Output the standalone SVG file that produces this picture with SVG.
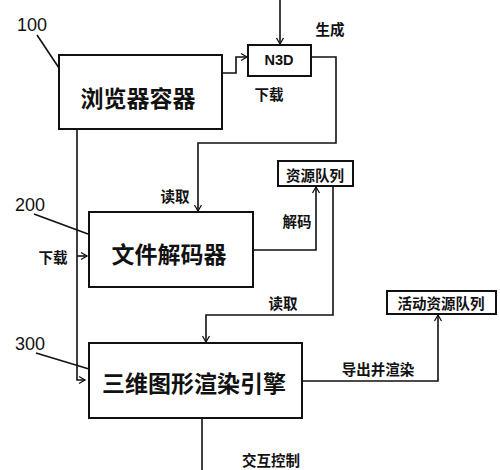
<svg xmlns="http://www.w3.org/2000/svg" width="500" height="470" viewBox="0 0 500 470">
<defs>
<marker id="ah" markerWidth="10" markerHeight="10" refX="8" refY="5" orient="auto" markerUnits="userSpaceOnUse">
<path d="M2,1.5 L8,5 L2,8.5" fill="none" stroke="#111" stroke-width="1.3"/>
</marker>
<style>
.box{fill:#fff;stroke:#111;stroke-width:2}
.con{fill:none;stroke:#111;stroke-width:1.6}
.big{font-family:"Noto Sans CJK SC","Noto Sans",sans-serif;font-size:23px;font-weight:bold;fill:#111;text-anchor:middle;dominant-baseline:central}
.sm{font-family:"Noto Sans CJK SC","Noto Sans",sans-serif;font-size:14.5px;font-weight:bold;fill:#111;text-anchor:middle;dominant-baseline:central}
.num{font-family:"Liberation Sans",Arial,sans-serif;font-size:18px;fill:#111;dominant-baseline:central}
</style>
</defs>
<rect width="500" height="470" fill="#fff"/>
<g id="connectors">
<path class="con" d="M222,73 H236 V57 H247" marker-end="url(#ah)"/>
<path class="con" d="M280,0 V44" marker-end="url(#ah)"/>
<path class="con" d="M311,57 H336 V143 H198 V211" marker-end="url(#ah)"/>
<path class="con" d="M77,129 V380 H85" marker-end="url(#ah)"/>
<path class="con" d="M77,256 H87" marker-end="url(#ah)"/>
<path class="con" d="M253,250 H316 V187" marker-end="url(#ah)"/>
<path class="con" d="M333,186 V315 H206 V342" marker-end="url(#ah)"/>
<path class="con" d="M302,381 H438 V315" marker-end="url(#ah)"/>
<path class="con" d="M202,418 V470"/>
<path class="con" d="M37,35 L59,68" stroke-width="1.2"/>
<path class="con" d="M34,214 L88,234" stroke-width="1.2"/>
<path class="con" d="M36,353 L89,369" stroke-width="1.2"/>
</g>
<g id="labels">
<text class="sm" x="330" y="28">生成</text>
<text class="sm" x="269" y="93">下载</text>
<text class="sm" x="175" y="195">读取</text>
<text class="sm" x="53" y="256">下载</text>
<text class="sm" x="297" y="220">解码</text>
<text class="sm" x="283" y="302">读取</text>
<text class="sm" x="378" y="368">导出并渲染</text>
<text class="sm" x="271" y="459">交互控制</text>
<text class="num" x="17" y="25">100</text>
<text class="num" x="15" y="205">200</text>
<text class="num" x="15" y="344">300</text>
</g>
<g id="node-100">
<rect class="box" x="59" y="55" width="163" height="74"/>
<text class="big" x="138" y="97">浏览器容器</text>
</g>
<g id="node-n3d">
<rect class="box" x="248" y="45" width="63" height="31"/>
<text class="sm" x="279" y="60" style="font-family:'Liberation Sans',Arial,sans-serif">N3D</text>
</g>
<g id="node-200">
<rect class="box" x="89" y="212" width="164" height="75"/>
<text class="big" x="169" y="253">文件解码器</text>
</g>
<g id="node-resq">
<rect class="box" x="278" y="161" width="75" height="25"/>
<text class="sm" x="315" y="174">资源队列</text>
</g>
<g id="node-300">
<rect class="box" x="89" y="343" width="213" height="75"/>
<text class="big" x="194" y="382">三维图形渲染引擎</text>
</g>
<g id="node-activeq">
<rect class="box" x="387" y="291" width="109" height="23"/>
<text class="sm" x="441" y="302">活动资源队列</text>
</g>
</svg>
